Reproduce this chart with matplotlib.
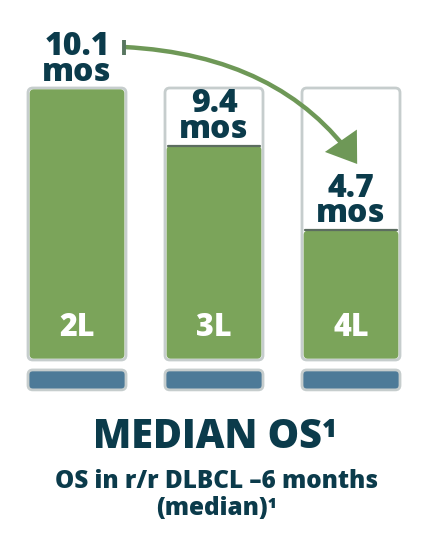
import matplotlib.pyplot as plt
from matplotlib.patches import FancyBboxPatch, FancyArrowPatch

# Daten
linien = ['2L', '3L', '4L']
median_os = [10.1, 9.4, 4.7]
# sichtbare Balkenlänge wie im Bild (gleiche Skala wie 10.1)
balken = [10.1, 8.0, 4.85]
wert_labels = ['10.1\nmos', '9.4\nmos', '4.7\nmos']

dunkel = '#0b3b4b'
gruen = '#7ba45a'
blau = '#4d7a98'
rahmen = '#c6cdcd'

plt.rcParams['font.family'] = ['Open Sans', 'DejaVu Sans']
gewicht = 800

fig = plt.figure(figsize=(4.26, 5.44), dpi=100)
ax = fig.add_axes([0, (544 - 395) / 544, 1, (395 - 88) / 544])
ax.set_xlim(-77 / 137, (426 - 77) / 137)
ax.set_ylim(-1.3, 10.1)
ax.axis('off')

breite = 98 / 137
px_y = 10.1 / 272
asp = px_y / (1 / 137)
ymax = max(balken)

for i, lab in enumerate(linien):
    x0 = i - breite / 2
    # Rahmen
    ax.add_patch(FancyBboxPatch((x0, 0), breite, ymax,
                                boxstyle='round,pad=0,rounding_size=0.035',
                                mutation_aspect=asp, fc='white', ec=rahmen, lw=2,
                                clip_on=False, zorder=1))
    # grüner Balken
    ax.add_patch(FancyBboxPatch((x0 + 0.012, 0.05), breite - 0.024, balken[i] - 0.1,
                                boxstyle='round,pad=0,rounding_size=0.03',
                                mutation_aspect=asp, fc=gruen, ec='none',
                                clip_on=False, zorder=2))
    if balken[i] < ymax:
        ax.plot([x0 + 0.02, x0 + breite - 0.02], [balken[i] - 0.04] * 2,
                color='#5c6d60', lw=1.6, solid_capstyle='round', zorder=3)
    # Wert oberhalb
    ax.text(i, balken[i] + 7 * px_y, wert_labels[i], ha='center', va='baseline',
            fontsize=23, fontweight=gewicht, color=dunkel, linespacing=0.74,
            zorder=4, clip_on=False)
    # Linie innen
    ax.text(i, 1.2, lab, ha='center', va='center', fontsize=22,
            fontweight=gewicht, color='white', zorder=4)
    # blaue Pille
    ax.add_patch(FancyBboxPatch((x0, -1.11), breite, 0.74,
                                boxstyle='round,pad=0,rounding_size=0.035',
                                mutation_aspect=asp, fc=blau, ec=rahmen, lw=2,
                                clip_on=False, zorder=1))

# Pfeil von 2L nach 4L
start = (0 + 0.345, ymax + 41 * px_y)
ende = (2 + 0.045, ymax - 76 * px_y)
pfeil = FancyArrowPatch(start, ende, connectionstyle='angle3,angleA=-3,angleB=-55',
                        arrowstyle='-|>,head_length=1.6,head_width=1.1',
                        mutation_scale=10, color='#6e9857', lw=3.2,
                        joinstyle='miter', capstyle='butt',
                        clip_on=False, zorder=5, shrinkA=0, shrinkB=0)
ax.add_patch(pfeil)
ax.plot([start[0], start[0]], [start[1] - 8 * px_y, start[1] + 7 * px_y],
        color='#587660', lw=2.8, solid_capstyle='butt', clip_on=False, zorder=5)

fig.text(0.505, 1 - 448 / 544, 'MEDIAN OS¹', ha='center', va='baseline',
         fontsize=28.5, fontweight=gewicht, color=dunkel)
fig.text(0.508, 1 - 488 / 544, 'OS in r/r DLBCL –6 months', ha='center',
         va='baseline', fontsize=17.5, fontweight=gewicht, color=dunkel)
fig.text(0.508, 1 - 515 / 544, '(median)¹', ha='center', va='baseline',
         fontsize=17.5, fontweight=gewicht, color=dunkel)

fig.savefig('out.png', dpi=100)
